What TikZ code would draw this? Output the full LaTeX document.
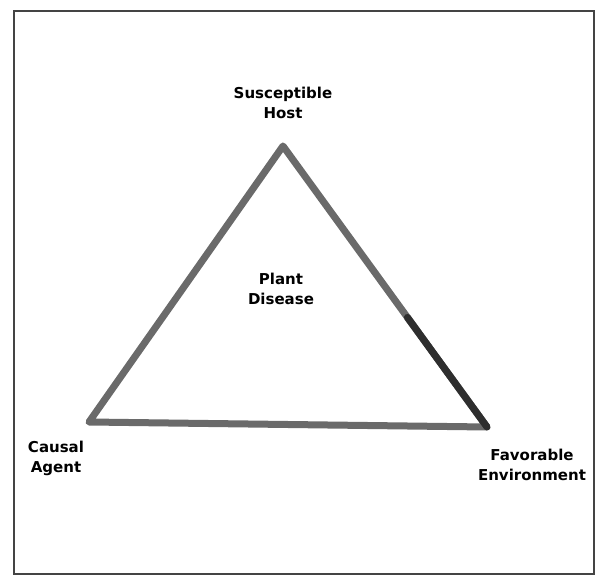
\documentclass[tikz,border=0pt]{standalone}
\usepackage{fontspec}
\setmainfont{DejaVu Sans}
\usetikzlibrary{calc}
\definecolor{SideGray}{HTML}{6A6A6A}
\definecolor{FrameGray}{HTML}{444444}
\definecolor{ScanDark}{HTML}{2E2E2E}

\begin{document}
\begin{tikzpicture}[x=1pt, y=-1pt,
    cornerlabel/.style={font=\bfseries\fontsize{15}{20}\selectfont, align=center, inner sep=0pt},
    sideline/.style={draw=SideGray, line width=7pt, line join=round, line cap=round},
    frameline/.style={draw=FrameGray, line width=2pt}
  ]
    \useasboundingbox (0,0) rectangle (595,575);
    \draw[frameline] (14,11) rectangle (594,574);

    % corners of the triangle
    \coordinate (host) at (283,146);
    \coordinate (agent) at (89,422);
    \coordinate (env) at (487,427);

    \draw[sideline] (host) -- (env) -- (agent) -- cycle;
    \draw[sideline, draw=ScanDark] ($(host)!0.61!(env)$) -- (env);

    \node[cornerlabel] (hostlbl) at (283,103) {Susceptible\\Host};
    \node[cornerlabel] (disease) at (281,289) {Plant\\Disease};
    \node[cornerlabel] (agentlbl) at (56,458) {Causal\\Agent};
    \node[cornerlabel] (envlbl) at (532,465) {Favorable\\Environment};
  \end{tikzpicture}
\end{document}
